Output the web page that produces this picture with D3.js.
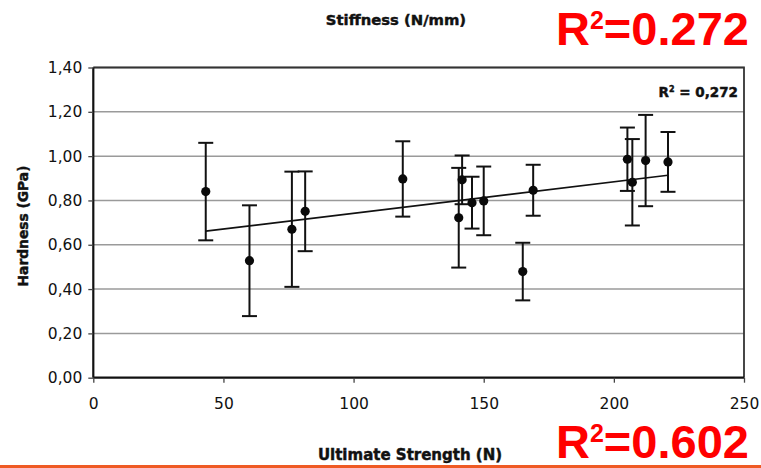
<!DOCTYPE html>
<html>
<head>
<meta charset="utf-8">
<script src="https://cdn.jsdelivr.net/npm/d3@7"></script>
<style>
  html, body { margin: 0; padding: 0; background: #fff; }
  svg { display: block; }
</style>
</head>
<body>
<script>
"use strict";

// Data

const strength = [43.2, 60.0, 76.3, 81.4, 118.9, 140.4, 141.7, 145.5, 150.0, 169.0, 165.0, 205.2, 207.1, 212.2, 220.8];
const hardness = [0.840, 0.528, 0.670, 0.751, 0.897, 0.722, 0.893, 0.790, 0.798, 0.846, 0.479, 0.986, 0.882, 0.980, 0.974];
const errors   = [0.220, 0.250, 0.260, 0.180, 0.170, 0.225, 0.110, 0.117, 0.155, 0.115, 0.130, 0.143, 0.195, 0.206, 0.135];

const xTicks = [0, 50, 100, 150, 200, 250];
const yTicks = [0, 0.2, 0.4, 0.6, 0.8, 1.0, 1.2, 1.4];

const titleText = 'Stiffness (N/mm)';
const xLabel = 'Ultimate Strength (N)';
const yLabel = 'Hardness (GPa)';
const fitLabel = ['R', '2', ' = 0,272'];
const bigTop = ['R', '2', '=0.272'];
const bigBottom = ['R', '2', '=0.602'];

const points = strength.map((s, i) => ({ x: s, y: hardness[i], e: errors[i] }));

// Size parameters

const width = 761;
const height = 468;
const plot = { left: 93.3, right: 744, top: 67.5, bottom: 377.7 };
const capHalf = 7.5;
const dotRadius = 4.6;

const svg = d3.select('body')
    .append('svg')
    .attr('width', width)
    .attr('height', height);

const x = d3.scaleLinear().domain([0, 250]).range([plot.left, plot.right]);
const y = d3.scaleLinear().domain([0, 1.4]).range([plot.bottom, plot.top]);

const comma = d => d3.format('.2f')(d).replace('.', ',');

/*************
 * Gridlines *
 *************/

svg.append('g')
    .selectAll('line')
    .data(yTicks.filter(t => t > 0))
    .enter()
    .append('line')
    .attr('x1', plot.left)
    .attr('x2', plot.right)
    .attr('y1', d => y(d))
    .attr('y2', d => y(d))
    .attr('stroke', '#9a9a9a')
    .attr('stroke-width', 1.5);

// top and right border of the plot area
svg.append('path')
    .attr('d', `M${plot.left},${y(1.4)}H${plot.right}V${plot.bottom}`)
    .attr('fill', 'none')
    .attr('stroke', '#333')
    .attr('stroke-width', 1.8);

/********
 * Axes *
 ********/

const yAxis = svg.append('g')
    .attr('transform', `translate(${plot.left},0)`)
    .call(d3.axisLeft(y).tickValues(yTicks).tickFormat(comma).tickSize(5).tickPadding(6));

const xAxis = svg.append('g')
    .attr('transform', `translate(0,${plot.bottom})`)
    .call(d3.axisBottom(x).tickValues(xTicks).tickSize(5).tickPadding(15));

[xAxis, yAxis].forEach(g => {
    g.select('.domain').attr('stroke', '#111').attr('stroke-width', 2.2);
    g.selectAll('.tick line').attr('stroke', '#444').attr('stroke-width', 1.3);
    g.selectAll('.tick text')
        .attr('fill', '#111')
        .style('font-family', '"DejaVu Sans", sans-serif')
        .style('font-size', '15.5px');
});
xAxis.select('.domain').attr('d', `M${plot.left},0H${plot.right}`);
yAxis.select('.domain').attr('d', `M0,${plot.bottom}V${plot.top}`);

/**************
 * Error bars *
 **************/

const bars = svg.append('g')
    .selectAll('g')
    .data(points)
    .enter()
    .append('g')
    .attr('stroke', '#111')
    .attr('stroke-width', 2);

bars.append('line')
    .attr('x1', d => x(d.x)).attr('x2', d => x(d.x))
    .attr('y1', d => y(d.y - d.e)).attr('y2', d => y(d.y + d.e));

bars.append('line')
    .attr('x1', d => x(d.x) - capHalf).attr('x2', d => x(d.x) + capHalf)
    .attr('y1', d => y(d.y + d.e)).attr('y2', d => y(d.y + d.e));

bars.append('line')
    .attr('x1', d => x(d.x) - capHalf).attr('x2', d => x(d.x) + capHalf)
    .attr('y1', d => y(d.y - d.e)).attr('y2', d => y(d.y - d.e));

/*************
 * Trendline *
 *************/

const meanX = d3.mean(points, d => d.x);
const meanY = d3.mean(points, d => d.y);
const slope = d3.sum(points, d => (d.x - meanX) * (d.y - meanY)) / d3.sum(points, d => (d.x - meanX) ** 2);
const fit = v => meanY + slope * (v - meanX);
const [xMin, xMax] = d3.extent(points, d => d.x);

svg.append('line')
    .attr('x1', x(xMin)).attr('y1', y(fit(xMin)))
    .attr('x2', x(xMax)).attr('y2', y(fit(xMax)))
    .attr('stroke', '#111')
    .attr('stroke-width', 1.6);

/**********
 * Points *
 **********/

svg.append('g')
    .selectAll('circle')
    .data(points)
    .enter()
    .append('circle')
    .attr('cx', d => x(d.x))
    .attr('cy', d => y(d.y))
    .attr('r', dotRadius)
    .attr('fill', '#0a0a0a');

/**********
 * Labels *
 **********/

const boldFont = '"DejaVu Sans", sans-serif';

// heavy bold labels, a thin stroke thickens the glyphs a little
const boldLabel = (sel, size) => sel
    .style('font-family', boldFont)
    .style('font-weight', 'bold')
    .style('font-size', size)
    .attr('fill', '#111')
    .attr('stroke', '#111')
    .attr('stroke-width', 0.45);

boldLabel(svg.append('text')
    .attr('x', 396).attr('y', 25)
    .attr('text-anchor', 'middle'), '14.8px')
    .text(titleText);

boldLabel(svg.append('text')
    .attr('x', 410).attr('y', 460)
    .attr('text-anchor', 'middle'), '15px')
    .text(xLabel);

boldLabel(svg.append('text')
    .attr('transform', 'translate(28,226) rotate(-90)')
    .attr('text-anchor', 'middle'), '13.8px')
    .text(yLabel);

// R² of the fit, inside the plot
const fitText = boldLabel(svg.append('text')
    .attr('x', 738).attr('y', 97)
    .attr('text-anchor', 'end'), '13.5px');
fitText.append('tspan').text(fitLabel[0]);
fitText.append('tspan').attr('dy', -5).style('font-size', '8px').text(fitLabel[1]);
fitText.append('tspan').attr('dy', 5).text(fitLabel[2]);

// Big red annotations
const renderBig = (parts, baseline) => {
    const t = svg.append('text')
        .attr('x', 556).attr('y', baseline)
        .style('font-family', '"Liberation Sans", Arial, sans-serif')
        .style('font-weight', 'bold')
        .style('font-size', '47px')
        .attr('fill', '#ff0000');
    t.append('tspan').text(parts[0]);
    t.append('tspan').attr('dy', -16).style('font-size', '25px').text(parts[1]);
    t.append('tspan').attr('dy', 16).text(parts[2]);
};

renderBig(bigTop, 45);
renderBig(bigBottom, 458);

// Orange rule along the bottom edge
svg.append('rect')
    .attr('x', 0).attr('y', 465)
    .attr('width', width).attr('height', 3)
    .attr('fill', '#ef5a24');
</script>
</body>
</html>
